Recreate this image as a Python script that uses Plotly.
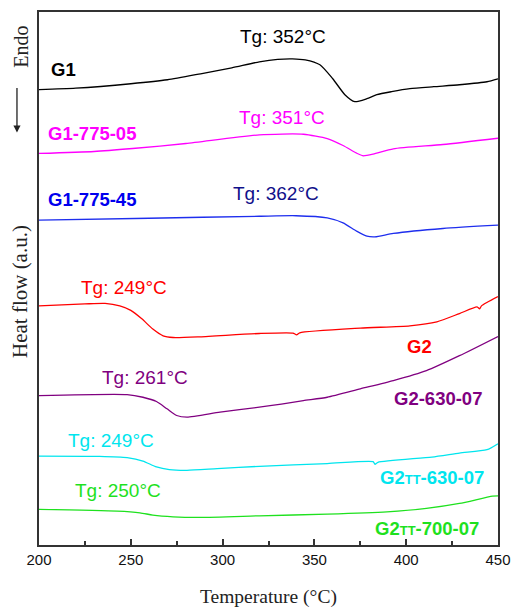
import plotly.graph_objects as go

# ---------------- data (temperature in °C, heat flow in a.u., offset curves) ----------------
g1_T = [200, 220, 250, 270, 288, 305, 320, 330, 338, 345, 353, 360, 366.6, 372, 378.6, 384, 392, 402, 415, 429, 444, 450]
g1_H = [457, 458.5, 463, 467, 473, 479, 485, 487.5, 488, 487, 482, 468, 452, 445, 448, 452, 455, 458, 460, 462, 465, 468]

g1_05_T = [200, 230, 251, 280, 320, 344, 357, 365.6, 373, 376.5, 382, 393, 420, 450]
g1_05_H = [393, 395, 398, 403, 411.7, 412.3, 408, 401, 393.3, 390.7, 392.3, 397.7, 402, 408.3]

g1_45_T = [200, 260, 320, 340, 357, 365.6, 373, 378.6, 383, 393, 420, 450]
g1_45_H = [326, 328, 330, 330.5, 328.3, 323.3, 315, 310, 309.3, 312.7, 317.7, 321]

g2_T = [200, 225, 236, 244, 250, 256, 262, 267.6, 273, 287.7, 320, 338.3, 340.3, 342, 375, 402, 416.7, 429, 438.6, 440, 441, 450]
g2_H = [240, 242, 242.5, 240, 235.5, 227, 216.7, 210, 208.3, 209, 212.3, 212.7, 211, 213, 217.7, 220, 224, 232.3, 239, 237, 240, 249.3]

g2_630_T = [200, 248, 256.6, 264, 269.7, 275, 280.6, 298.6, 320, 332, 344, 357, 375, 393, 411, 429, 450]
g2_630_H = [150, 151, 148.3, 144, 136.7, 130, 128.3, 133.3, 138.3, 141.5, 145, 148.3, 156.7, 165, 175, 190, 209.3]

g2tt_630_T = [200, 233, 248, 256.6, 264, 271, 280.6, 297, 320, 357, 382, 383, 384.6, 414, 429, 444, 450]
g2tt_630_H = [89.3, 89, 87.7, 84.3, 78.3, 75.7, 75, 76.7, 79, 81.7, 83.7, 81, 83, 88.3, 92.3, 95.7, 101.7]

g2tt_700_T = [200, 242.5, 255, 262, 273, 287.7, 320, 357, 389.5, 411, 429, 447, 450]
g2tt_700_H = [35.7, 34, 32.3, 30, 28.3, 27.7, 29.3, 31, 33.3, 36.7, 41.7, 49, 49.3]

series_names = ["G1", "G1-775-05", "G1-775-45", "G2", "G2-630-07",
                "G2<span style='font-size:13px'>TT</span>-630-07",
                "G2<span style='font-size:13px'>TT</span>-700-07"]
series_T = [g1_T, g1_05_T, g1_45_T, g2_T, g2_630_T, g2tt_630_T, g2tt_700_T]
series_H = [g1_H, g1_05_H, g1_45_H, g2_H, g2_630_H, g2tt_630_H, g2tt_700_H]
line_colors = ["#000000", "#FF00FF", "#1E2EEE", "#FF0000", "#800080", "#00E5EE", "#1EE11E"]
label_colors = ["#000000", "#FF00FF", "#0000EE", "#FF0000", "#800080", "#00E5EE", "#1EE11E"]
tg_colors = ["#000000", "#FF00FF", "#10108A", "#FF0000", "#800080", "#00E5EE", "#1EE11E"]

# sample-name label anchors (T, H)
name_T = [213.5, 228.7, 228.7, 407, 417.3, 414, 411.5]
name_H = [477, 413, 347, 199, 147, 68, 17]
# Tg annotations
tg_text = ["Tg: 352°C", "Tg: 351°C", "Tg: 362°C", "Tg: 249°C", "Tg: 261°C", "Tg: 249°C", "Tg: 250°C"]
tg_T = [333, 332.6, 329, 246.3, 257.7, 239.2, 243]
tg_H = [510, 429, 353, 258, 168, 105, 55]

x_ticks = [200, 250, 300, 350, 400, 450]

SANS = "Liberation Sans, Arial, sans-serif"
SERIF = "Liberation Serif, Times New Roman, serif"

fig = go.Figure()
for T, H, c in zip(series_T, series_H, line_colors):
    fig.add_trace(go.Scatter(x=T, y=H, mode="lines",
                             line=dict(color=c, width=1.3, shape="spline", smoothing=0.6),
                             showlegend=False, hoverinfo="skip"))

ann = []
for name, x, y, c in zip(series_names, name_T, name_H, label_colors):
    ann.append(dict(x=x, y=y, xref="x", yref="y", text="<b>%s</b>" % name, showarrow=False,
                    font=dict(family=SANS, size=18.5, color=c), xanchor="center", yanchor="middle"))
for t, x, y, c in zip(tg_text, tg_T, tg_H, tg_colors):
    ann.append(dict(x=x, y=y, xref="x", yref="y", text=t, showarrow=False,
                    font=dict(family=SANS, size=19, color=c), xanchor="center", yanchor="middle"))

# left side labels
ann.append(dict(x=-0.041, y=0.935, xref="paper", yref="paper", text="Endo", textangle=-90,
                showarrow=False, font=dict(family=SERIF, size=20, color="#222"),
                xanchor="center", yanchor="middle"))
ann.append(dict(x=-0.041, y=0.475, xref="paper", yref="paper", text="Heat flow (a.u.)", textangle=-90,
                showarrow=False, font=dict(family=SERIF, size=21, color="#222"),
                xanchor="center", yanchor="middle"))
ann.append(dict(x=-0.048, y=(545 - 131) / 535, xref="paper", yref="paper", text="",
                showarrow=True, ax=0, ay=-46, arrowhead=2, arrowsize=1.1, arrowwidth=1.3,
                arrowcolor="#222"))
ann.append(dict(x=0.5, y=-0.098, xref="paper", yref="paper", text="Temperature (°C)",
                showarrow=False, font=dict(family=SERIF, size=19.5, color="#222"),
                xanchor="center", yanchor="middle"))

fig.update_layout(
    width=521, height=610,
    margin=dict(l=39, r=23, t=10, b=65),
    paper_bgcolor="white", plot_bgcolor="white",
    annotations=ann,
    xaxis=dict(range=[200, 450], tickvals=x_ticks, ticks="inside", ticklen=6, tickwidth=1.5,
               tickcolor="#333", showline=True, linecolor="#333", linewidth=1.6, mirror=True,
               showgrid=False, zeroline=False,
               tickfont=dict(family=SANS, size=15, color="#111"),
               minor=dict(ticks="inside", dtick=25, ticklen=4, tickwidth=1.5, tickcolor="#333")),
    yaxis=dict(range=[0, 535], showticklabels=False, ticks="", showline=True, linecolor="#333",
               linewidth=1.6, mirror=True, showgrid=False, zeroline=False),
)

fig.write_html("out.html")
